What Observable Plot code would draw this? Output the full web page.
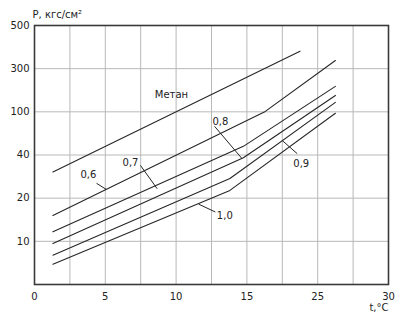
<!DOCTYPE html>
<html><head><meta charset="utf-8">
<script src="https://cdn.jsdelivr.net/npm/d3@7"></script>
<script src="https://cdn.jsdelivr.net/npm/@observablehq/plot@0.6"></script>
<style>
html,body{margin:0;padding:0;background:#fff;}
#chart{width:401px;height:319px;}
</style></head><body><div id="chart"></div>
<script>
// Axis structure (non-uniform, as in the original chart)
const yDomain = [5, 10, 20, 40, 100, 300, 500];
const xDomain = [0, 5, 10, 15, 25, 30];
const yTicks = [10, 20, 40, 100, 300, 500];
const xTicks = [0, 5, 10, 15, 25, 30];
const xGrid = [2.5, 5, 7.5, 10, 12.5, 15, 20, 25, 27.5];
const yGrid = [10, 20, 40, 100, 300];

// Series (t, °C  ->  P, кгс/см²)
const seriesNames = ["Метан", "0,6", "0,7", "0,8", "0,9", "1,0"];
const seriesT = [
  [1.3, 22.5],
  [1.3, 17.6, 26.25],
  [1.3, 14.75, 26.25],
  [1.3, 14.75, 26.25],
  [1.3, 13.8, 26.25],
  [1.3, 13.8, 26.25]
];
const seriesP = [
  [32.1, 381],
  [16.0, 102, 338],
  [12.2, 52, 218],
  [9.74, 38.7, 176],
  [8.4, 29.1, 144],
  [7.35, 23.6, 98]
];

// Curve labels and leader lines
const labelText = ["Метан", "0,6", "0,7", "0,8", "0,9", "1,0"];
const labelT = [9.67, 3.81, 6.78, 13.13, 22.68, 13.44];
const labelP = [178, 31.0, 36.4, 86.7, 36.1, 16.0];
const leaderT1 = [4.38, 7.48, 12.72, 22.1, 12.77];
const leaderP1 = [26.9, 35.2, 79.8, 41.9, 16.8];
const leaderT2 = [5.08, 8.66, 14.66, 19.98, 11.6];
const leaderP2 = [24.0, 24.4, 38.3, 60.2, 18.6];

const yTitle = "P, кгс/см²";
const xTitle = "t,°C";

const lineRows = seriesNames.flatMap((name, i) =>
  seriesT[i].map((t, j) => ({name, t, p: seriesP[i][j]})));
const labelRows = labelText.map((text, i) => ({text, t: labelT[i], p: labelP[i]}));
const leaderRows = leaderT1.map((_, i) => ({
  t1: leaderT1[i], p1: leaderP1[i], t2: leaderT2[i], p2: leaderP2[i]}));

const chart = Plot.plot({
  width: 401,
  height: 319,
  marginLeft: 34,
  marginRight: 13,
  marginTop: 25,
  marginBottom: 35,
  style: {fontFamily: "DejaVu Sans", fontSize: "10px", color: "#222", background: "#fff"},
  x: {type: "linear", domain: xDomain},
  y: {type: "linear", domain: yDomain},
  marks: [
    Plot.ruleX(xGrid, {stroke: "#b8b8b8", strokeWidth: 1}),
    Plot.ruleY(yGrid, {stroke: "#b8b8b8", strokeWidth: 1}),
    Plot.line(lineRows, {x: "t", y: "p", z: "name", stroke: "#262626", strokeWidth: 1.1}),
    Plot.link(leaderRows, {x1: "t1", y1: "p1", x2: "t2", y2: "p2", stroke: "#262626", strokeWidth: 1}),
    Plot.text(labelRows, {x: "t", y: "p", text: "text", fill: "#222", fontSize: 10,
      fontWeight: d => d.text === "Метан" ? "bold" : "normal"}),
    Plot.frame({stroke: "#3a3a3a", strokeWidth: 1.6}),
    Plot.axisX({ticks: xTicks, tickSize: 0, tickPadding: 8, tickFormat: d => String(d), fontSize: 10}),
    Plot.axisY({ticks: yTicks, tickSize: 0, tickPadding: 5, tickFormat: d => String(d), fontSize: 10}),
    Plot.text([yTitle], {frameAnchor: "top-left", dx: -2, dy: -8, lineAnchor: "bottom", textAnchor: "start", fontSize: 10}),
    Plot.text([xTitle], {frameAnchor: "bottom-right", dx: 0, dy: 19, lineAnchor: "top", textAnchor: "end", fontSize: 10})
  ]
});
document.getElementById("chart").appendChild(chart);
</script>
</body></html>
